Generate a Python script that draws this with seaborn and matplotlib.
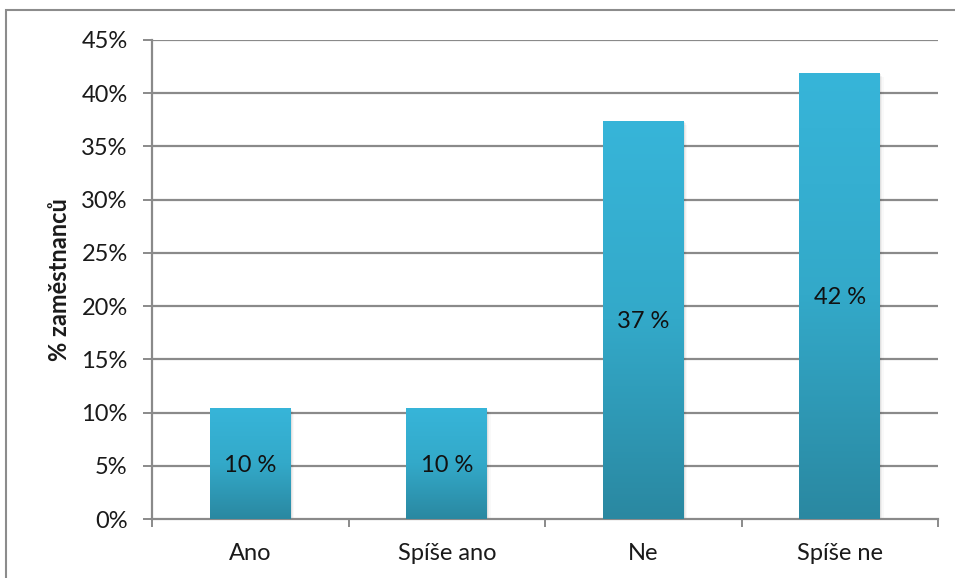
import numpy as np
import pandas as pd
import matplotlib
matplotlib.use("Agg")
import matplotlib.pyplot as plt
import seaborn as sns
from matplotlib.colors import LinearSegmentedColormap
from matplotlib.patches import Rectangle

categories = ["Ano", "Spíše ano", "Ne", "Spíše ne"]
shares = [10.4, 10.4, 37.4, 41.9]
y_ticks = [0, 5, 10, 15, 20, 25, 30, 35, 40, 45]
y_label = "% zaměstnanců"

df = pd.DataFrame({"kategorie": categories, "podil": shares})

sns.set_theme(style="white")
plt.rcParams["font.family"] = ["Lato", "DejaVu Sans"]

FS = 17
fig = plt.figure(figsize=(9.55, 5.78), dpi=100)
ax = fig.add_axes([152 / 955, 1 - 519 / 578, (938 - 152) / 955, (519 - 40) / 578])

grid_col = "#8a8a8a"
sns.barplot(data=df, x="kategorie", y="podil", ax=ax, width=0.41,
            color="#33b0d3", linewidth=0, saturation=1, zorder=3)

ax.set_ylim(0, 45)
ax.set_xlim(-0.5, len(categories) - 0.5)
ax.set_yticks(y_ticks)
ax.set_yticklabels([f"{t}%" for t in y_ticks], fontsize=FS, color="#1a1a1a")
ax.set_xticks(np.arange(len(categories)))
ax.set_xticklabels(categories, fontsize=FS, color="#1a1a1a")
ax.set_xlabel("")
ax.set_ylabel(y_label, fontsize=FS, fontweight="bold", color="#1a1a1a", labelpad=7)

# horizontal gridlines
for t in y_ticks[1:]:
    ax.axhline(t, color=grid_col, lw=1.6, zorder=1)

# category separator ticks on the x axis
ax.set_xticks(np.arange(-0.5, len(categories)), minor=True)
ax.tick_params(axis="x", which="major", length=0, pad=17)
ax.tick_params(axis="x", which="minor", length=6, width=1.4, color=grid_col, direction="out", bottom=True)
ax.tick_params(axis="y", length=6.5, width=1.4, color=grid_col, direction="out", left=True, pad=11)

for s in ["top", "right"]:
    ax.spines[s].set_visible(False)
for s in ["left", "bottom"]:
    ax.spines[s].set_color(grid_col)
    ax.spines[s].set_linewidth(1.6)

# vertical gradient fill for the bars plus soft shadow
cmap = LinearSegmentedColormap.from_list("bar", ["#2a88a1", "#33a9c9", "#37b5d9"])
grad = np.linspace(0, 1, 256).reshape(-1, 1)
for patch, val in zip(ax.patches, shares):
    x0, w = patch.get_x(), patch.get_width()
    for k, a in enumerate([0.06, 0.04, 0.025]):
        sh = Rectangle((x0 + 0.006 * (k + 1), 0), w, val - 0.12 * (k + 1),
                       facecolor="black", alpha=a, linewidth=0, zorder=2)
        ax.add_patch(sh)
    patch.set_facecolor("none")
    im = ax.imshow(grad, aspect="auto", cmap=cmap, origin="lower",
                   extent=(x0, x0 + w, 0, val), zorder=3.5)
    im.set_clip_path(patch)
    ax.text(x0 + w / 2, val / 2, f"{val:.0f} %", ha="center", va="center_baseline",
            fontsize=FS, color="#111111", zorder=5)

ax.set_xlim(-0.5, len(categories) - 0.5)
ax.set_ylim(0, 45)

# chart-area frame
fig.patches.append(Rectangle((6 / 955, -0.1), 1.2, 1 - 10 / 578 + 0.1,
                             transform=fig.transFigure, fill=False,
                             edgecolor="#8c8c8c", linewidth=1.5))

fig.savefig("out.png", dpi=100)
